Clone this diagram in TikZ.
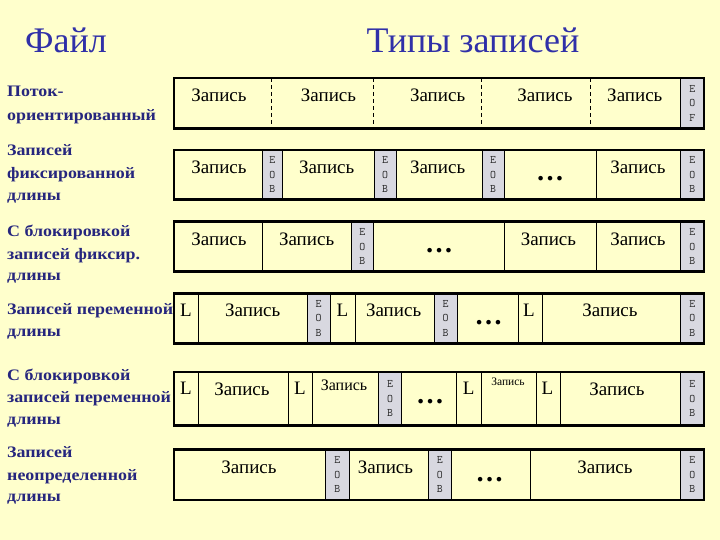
\documentclass[tikz,border=0pt]{standalone}
\usepackage{fontspec}
\setmainfont{Liberation Serif}
\newfontfamily\lblfont[FakeStretch=1.12]{Liberation Serif}
\definecolor{bg}{HTML}{FFFFCC}
\definecolor{eobgrey}{HTML}{D8D8E0}
\definecolor{titleblue}{HTML}{3030A8}
\definecolor{labelblue}{HTML}{26267E}
\newcommand\eobc[6]{%
  \fill[eobgrey] (#1,#3) rectangle (#2,#4);
  \draw[div] (#1,#3) -- (#1,#4);
  \draw[div] (#2,#3) -- (#2,#4);
  \node[eobt] (#6) at ({(#1+#2)/2},{(#3+#4)/2}) {E\\O\\#5};}
\newcommand\dv[3]{\draw[div] (#1,#2) -- (#1,#3);}
\begin{document}
\begin{tikzpicture}[x=1pt,y=-1pt,
  div/.style={line width=0.9pt},
  outer/.style={line width=2.5pt},
  rec/.style={font=\fontsize{19}{19}\selectfont, inner sep=0},
  recs/.style={font=\fontsize{16}{16}\selectfont, inner sep=0},
  recxs/.style={font=\fontsize{11.5}{11.5}\selectfont, inner sep=0},
  lmark/.style={font=\fontsize{19}{19}\selectfont, inner sep=0},
  dots/.style={font=\fontsize{28}{28}\selectfont\bfseries, anchor=base, inner sep=0},
  eobt/.style={font=\ttfamily\fontsize{11.5}{14.3}\selectfont, align=center, text=black!85, inner sep=0},
  lbl/.style={font=\lblfont\bfseries\fontsize{16}{16}\selectfont, text=labelblue, anchor=base west, inner sep=0},
  ttl/.style={font=\fontsize{36}{36}\selectfont, text=titleblue, inner sep=0}]
\fill[bg] (0,0) rectangle (720,540);
\useasboundingbox (0,0) rectangle (720,540);

% titles
\node[ttl] (tfile) at (66,40) {Файл};
\node[ttl] (ttypes) at (473,40) {Типы записей};

% left labels
\node[lbl] (l1a) at (7,97) {Поток-};
\node[lbl] (l1b) at (7,120.5) {ориентированный};
\node[lbl] (l2a) at (7,156) {Записей};
\node[lbl] (l2b) at (7,178.5) {фиксированной};
\node[lbl] (l2c) at (7,200.5) {длины};
\node[lbl] (l3a) at (7,236.5) {С блокировкой};
\node[lbl] (l3b) at (7,259) {записей фиксир.};
\node[lbl] (l3c) at (7,280.5) {длины};
\node[lbl] (l4a) at (7,314.5) {Записей переменной};
\node[lbl] (l4b) at (7,336) {длины};
\node[lbl] (l5a) at (7,380) {С блокировкой};
\node[lbl] (l5b) at (7,402.5) {записей переменной};
\node[lbl] (l5c) at (7,424.5) {длины};
\node[lbl] (l6a) at (7,457.5) {Записей};
\node[lbl] (l6b) at (7,480.5) {неопределенной};
\node[lbl] (l6c) at (7,501.5) {длины};

% ---- row 1  (78 -- 128.5)
\foreach \x in {271,373,481.6,590} {\draw[div,dash pattern=on 4pt off 3pt] (\x,78) -- (\x,128.5);}
\eobc{680.6}{704}{78}{128.5}{F}{e1}
\node[rec] (r1a) at (219,95) {Запись};
\node[rec] (r1b) at (328.5,95) {Запись};
\node[rec] (r1c) at (437.6,95) {Запись};
\node[rec] (r1d) at (545,95) {Запись};
\node[rec] (r1e) at (634.8,95) {Запись};
\draw[outer] (174,78) rectangle (704,128.5);

% ---- row 2  (150 -- 199.5)
\eobc{262.6}{282}{150}{199.5}{B}{e2a}
\eobc{374}{396}{150}{199.5}{B}{e2b}
\eobc{482}{504}{150}{199.5}{B}{e2c}
\eobc{680.6}{704}{150}{199.5}{B}{e2d}
\dv{596}{150}{199.5}
\node[rec] (r2a) at (219,167) {Запись};
\node[rec] (r2b) at (326.7,167) {Запись};
\node[rec] (r2c) at (437.6,167) {Запись};
\node[dots] (d2) at (550,181) {…};
\node[rec] (r2d) at (638,167) {Запись};
\draw[outer] (174,150) rectangle (704,199.5);

% ---- row 3  (221.7 -- 271.7)
\dv{262}{221.7}{271.7}
\eobc{351}{373.5}{221.7}{271.7}{B}{e3a}
\dv{504.5}{221.7}{271.7}
\dv{596}{221.7}{271.7}
\eobc{680.6}{704}{221.7}{271.7}{B}{e3b}
\node[rec] (r3a) at (219,239.5) {Запись};
\node[rec] (r3b) at (306.6,239.5) {Запись};
\node[dots] (d3) at (439,252) {…};
\node[rec] (r3c) at (548.5,239.5) {Запись};
\node[rec] (r3d) at (638,239.5) {Запись};
\draw[outer] (174,221.7) rectangle (704,271.7);

% ---- row 4  (293.3 -- 343.5)
\dv{198}{293.3}{343.5}
\eobc{307}{330}{293.3}{343.5}{B}{e4a}
\dv{355}{293.3}{343.5}
\eobc{434}{457}{293.3}{343.5}{B}{e4b}
\dv{518.6}{293.3}{343.5}
\dv{542}{293.3}{343.5}
\eobc{680.6}{704}{293.3}{343.5}{B}{e4c}
\node[lmark] (L4a) at (186,310.5) {L};
\node[rec] (r4a) at (252.7,310.5) {Запись};
\node[lmark] (L4b) at (342.5,310.5) {L};
\node[rec] (r4b) at (393.6,310.5) {Запись};
\node[dots] (d4) at (488.7,324.5) {…};
\node[lmark] (L4c) at (529,310.5) {L};
\node[rec] (r4c) at (610,310.5) {Запись};
\draw[outer] (174,293.3) rectangle (704,343.5);

% ---- row 5  (372 -- 425.5)
\dv{198}{372}{425.5}
\dv{288.3}{372}{425.5}
\dv{312.7}{372}{425.5}
\eobc{378.3}{401.7}{372}{425.5}{B}{e5a}
\dv{456.7}{372}{425.5}
\dv{481.6}{372}{425.5}
\dv{536}{372}{425.5}
\dv{560}{372}{425.5}
\eobc{680.6}{704}{372}{425.5}{B}{e5b}
\node[lmark] (L5a) at (186,388.5) {L};
\node[rec] (r5a) at (242,389.5) {Запись};
\node[lmark] (L5b) at (300,388.5) {L};
\node[recs] (r5b) at (344,385) {Запись};
\node[dots] (d5) at (430,403.5) {…};
\node[lmark] (L5c) at (468.6,388.5) {L};
\node[recxs] (r5c) at (508,382) {Запись};
\node[lmark] (L5d) at (547.5,388.5) {L};
\node[rec] (r5d) at (617,389.5) {Запись};
\draw[outer] (174,372) rectangle (704,425.5);

% ---- row 6  (449.5 -- 500)
\eobc{325.6}{349}{449.5}{500}{B}{e6a}
\eobc{428}{451.7}{449.5}{500}{B}{e6b}
\dv{530}{449.5}{500}
\eobc{680.6}{704}{449.5}{500}{B}{e6c}
\node[rec] (r6a) at (249,467) {Запись};
\node[rec] (r6b) at (385.5,467) {Запись};
\node[dots] (d6) at (489.7,481) {…};
\node[rec] (r6c) at (605,467) {Запись};
\draw[outer] (174,449.5) rectangle (704,500);
\end{tikzpicture}
\end{document}
